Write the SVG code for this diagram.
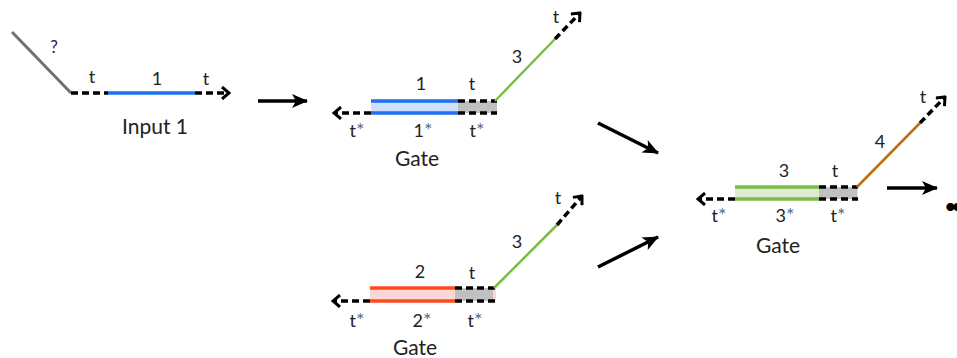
<svg xmlns="http://www.w3.org/2000/svg" width="957" height="358" viewBox="0 0 957 358">
<style>
text{font-family:Lato,"Open Sans","Liberation Sans",sans-serif;fill:#222;text-anchor:middle}
.lb{font-size:18px}
.ttl{font-size:21px}
.st{fill:#5a6a8a;font-size:20px}
.s{stroke-width:3.5;fill:none}
.d{stroke:#000;stroke-width:3.5;stroke-dasharray:7 4;fill:none}
.blue{stroke:#1e6ff0}
.red{stroke:#ff4a1e}
.grn{stroke:#7cbc44}
.arr{stroke:#000;stroke-width:3.5;fill:none;marker-end:url(#head)}
</style>
<defs>
<marker id="chev" viewBox="0 0 10 14" refX="8" refY="7" markerWidth="10" markerHeight="14" markerUnits="userSpaceOnUse" orient="auto">
<path d="M1,1 L8,7 L1,13" fill="none" stroke="#000" stroke-width="3"/>
</marker>
<marker id="head" viewBox="0 0 16 14" refX="15" refY="7" markerWidth="16" markerHeight="14" markerUnits="userSpaceOnUse" orient="auto">
<path d="M0,0 L16,7 L0,14 L4,7 z" fill="#000"/>
</marker>
</defs>

<g id="input1">
<line x1="12" y1="32" x2="71" y2="93" stroke="#707070" stroke-width="3"/>
<line class="d" x1="71" y1="93" x2="108" y2="93"/>
<line class="s blue" x1="108" y1="93" x2="195" y2="93"/>
<line class="d" x1="195" y1="93" x2="229" y2="93" marker-end="url(#chev)"/>
<text class="lb" x="54" y="53" style="font-size:17px">?</text>
<text class="lb" x="92" y="83">t</text>
<text class="lb" x="157" y="85">1</text>
<text class="lb" x="206" y="85">t</text>
<text class="ttl" x="155" y="134">Input 1</text>
</g>

<g id="gate1">
<rect x="371" y="101" width="87" height="12" fill="#cfe0fa"/>
<rect x="458" y="101" width="39" height="12" fill="#c0c0c0"/>
<line class="s blue" x1="371" y1="101" x2="458" y2="101"/>
<line class="s blue" x1="371" y1="113" x2="458" y2="113"/>
<line class="d" x1="458" y1="101" x2="497" y2="101"/>
<line class="d" x1="458" y1="113" x2="497" y2="113"/>
<line class="d" x1="371" y1="113" x2="334" y2="113" marker-end="url(#chev)"/>
<line class="grn" stroke-width="2.5" x1="495" y1="101" x2="555" y2="39"/>
<line class="d" stroke-width="3" x1="555" y1="39" x2="580" y2="13" marker-end="url(#chev)"/>
<text class="lb" x="421" y="90">1</text>
<text class="lb" x="472" y="90">t</text>
<text class="lb" x="517" y="63">3</text>
<text class="lb" x="556" y="23">t</text>
<text class="lb" x="357" y="137">t<tspan class="st">*</tspan></text>
<text class="lb" x="423" y="137">1<tspan class="st">*</tspan></text>
<text class="lb" x="477" y="137">t<tspan class="st">*</tspan></text>
<text class="ttl" x="417" y="166">Gate</text>
</g>

<g id="gate2">
<rect x="370" y="288" width="126" height="13" fill="#fdd6d6"/>
<rect x="455" y="288" width="38" height="13" fill="#c0c0c0"/>
<line class="s red" x1="370" y1="288" x2="455" y2="288"/>
<line class="s red" x1="370" y1="301" x2="455" y2="301"/>
<line class="d" x1="455" y1="288" x2="495" y2="288"/>
<line class="d" x1="455" y1="301" x2="495" y2="301"/>
<line class="d" x1="370" y1="301" x2="333" y2="301" marker-end="url(#chev)"/>
<line class="grn" stroke-width="2.5" x1="494" y1="288" x2="557" y2="225"/>
<line class="d" stroke-width="3" x1="557" y1="225" x2="582" y2="196" marker-end="url(#chev)"/>
<text class="lb" x="420" y="278">2</text>
<text class="lb" x="472" y="279">t</text>
<text class="lb" x="517" y="248">3</text>
<text class="lb" x="558" y="204">t</text>
<text class="lb" x="357" y="327">t<tspan class="st">*</tspan></text>
<text class="lb" x="422" y="327">2<tspan class="st">*</tspan></text>
<text class="lb" x="475" y="327">t<tspan class="st">*</tspan></text>
<text class="ttl" x="415" y="355">Gate</text>
</g>

<g id="gate3">
<rect x="735" y="187" width="123" height="12" fill="#ddebd0"/>
<rect x="819" y="187" width="38" height="12" fill="#c0c0c0"/>
<line class="s grn" x1="735" y1="187" x2="819" y2="187"/>
<line class="s grn" x1="735" y1="199" x2="819" y2="199"/>
<line class="d" x1="819" y1="187" x2="858" y2="187"/>
<line class="d" x1="819" y1="199" x2="858" y2="199"/>
<line class="d" x1="735" y1="199" x2="698" y2="199" marker-end="url(#chev)"/>
<line stroke="#b8730f" stroke-width="2.5" x1="857" y1="187" x2="920" y2="123"/>
<line class="d" stroke-width="3" x1="920" y1="123" x2="945" y2="97" marker-end="url(#chev)"/>
<text class="lb" x="784" y="177">3</text>
<text class="lb" x="835" y="177">t</text>
<text class="lb" x="880" y="148">4</text>
<text class="lb" x="923" y="103">t</text>
<text class="lb" x="719" y="222">t<tspan class="st">*</tspan></text>
<text class="lb" x="785" y="222">3<tspan class="st">*</tspan></text>
<text class="lb" x="838" y="222">t<tspan class="st">*</tspan></text>
<text class="ttl" x="778" y="253">Gate</text>
</g>

<g id="connectors">
<line class="arr" x1="258" y1="101" x2="307" y2="101"/>
<line class="arr" x1="598" y1="123" x2="658" y2="153"/>
<line class="arr" x1="598" y1="267" x2="658" y2="237"/>
<line class="arr" x1="887" y1="188" x2="937" y2="188"/>
</g>

<g id="more">
<text x="944 951 958" y="214" style="font-size:22px;text-anchor:start;fill:#000">•••</text>
</g>
</svg>
